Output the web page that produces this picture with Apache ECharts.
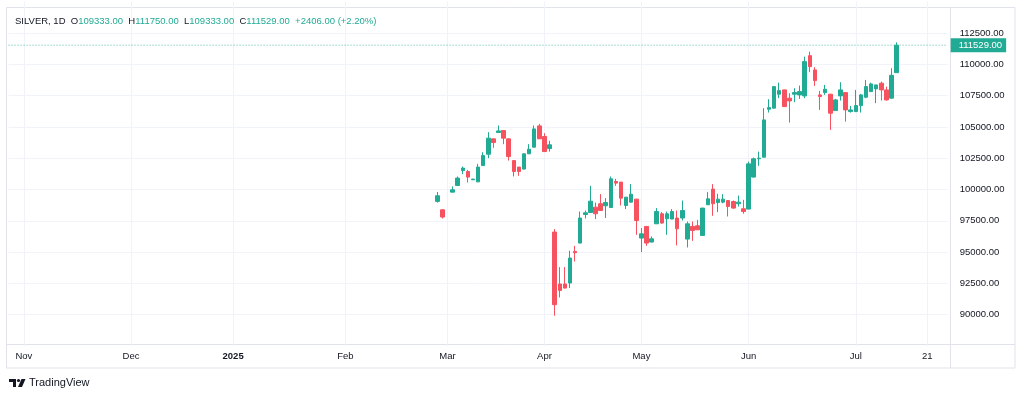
<!DOCTYPE html>
<html>
<head>
<meta charset="utf-8">
<title>SILVER, 1D</title>
<script src="https://cdn.jsdelivr.net/npm/echarts@6.0.0/dist/echarts.min.js"></script>
<style>
  html, body { margin: 0; padding: 0; background: #fff; }
  #chart { width: 1024px; height: 398px; }
</style>
</head>
<body>
<div id="chart"></div>
<script>
// time axis: one slot per trading day, labels sit on these slots
const slotCount = 185
const firstBarSlot = 84
const tickSlots = [3, 24, 44, 66, 86, 105, 124, 145, 166, 180]
const tickLabels = ['Nov', 'Dec', '2025', 'Feb', 'Mar', 'Apr', 'May', 'Jun', 'Jul', '21']

// daily candles from the first bar on (null = no bar on that slot)
const opens = [
  99050, 98380, null, 99790, 100320, 101515, 101435, 100780, 100610, 101910,
  102820, 104045, 104550, 104710, 104045, 102310, 101790, 101630, 102850, 103380,
  105080, 104230, 103270, 96600, 92450, 92450, 92530, 95050, 95720, 98000,
  98160, 98590, 98860, 98700, 98560, 100640, 100590, 98720, 98990, 99230,
  96120, 97050, 95800, 97260, 98060, 97660, 97640, 97720, 97720, 96040,
  97050, 97100, 96330, 98780, 100030, 98960, 98990, 99120, 99040, 98860,
  98460, 98435, 100990, 102450, 102580, 106415, 106495, 107612, 107955, 107293,
  107612, 107556, 107476, 110692, 109551, 107556, 107740, 107612, 106303, 107476,
  107740, 106223, 106223, 106702, 107372, 107819, 108035, 108490, 107955, 107293,
  109333
]
const closes = [
  99500, 97800, null, 99975, 100910, 101710, 100990, 100830, 101790, 102710,
  104100, 103750, 104680, 104100, 102630, 101435, 101435, 102850, 103220, 104840,
  104045, 103030, 103570, 90800, 91940, 92130, 94525, 94950, 97720, 98140,
  99070, 98060, 98320, 98960, 100850, 100510, 99310, 99390, 99630, 97525,
  96460, 95720, 96065, 98240, 97320, 98060, 98240, 96860, 98320, 97260,
  96730, 96780, 98515, 99257, 98860, 99230, 99230, 98640, 98515, 98990,
  98243, 102050, 102450, 102505, 105560, 106543, 108218, 107899, 106622, 107077,
  107740, 107819, 110213, 109814, 108697, 107420, 108011, 106096, 107157, 107955,
  106359, 106359, 106702, 107556, 108218, 108434, 108354, 107955, 107157, 109123,
  111529
]
const lows = [
  98950, 97680, null, 99780, 100300, 101230, 100560, 100760, 100600, 101900,
  102500, 103330, 104540, 103620, 102310, 101040, 101090, 101600, 102840, 103370,
  104030, 103020, 103030, 89920, 91380, 92100, 92130, 94250, 95700, 97690,
  98150, 97640, 98300, 97720, 98550, 100290, 98720, 98435, 98980, 96380,
  95000, 95500, 95790, 97250, 97260, 96380, 97630, 95530, 97525, 95370,
  95900, 96770, 96300, 98760, 97900, 98195, 98900, 97845, 98460, 98640,
  98060, 98420, 100970, 101890, 102570, 106144, 106480, 107293, 106600, 105346,
  106973, 107237, 107293, 109367, 108274, 106359, 107556, 104763, 106290, 107101,
  105425, 106144, 106200, 106144, 107293, 107800, 106894, 107101, 107101, 107280,
  109333
]
const highs = [
  99800, 98400, null, 100240, 101040, 101835, 101570, 100850, 102050, 102980,
  104580, 104060, 105110, 104750, 104060, 102330, 101800, 102860, 103620, 105110,
  105240, 104500, 103890, 96840, 93800, 93800, 95110, 95500, 98240, 98320,
  100290, 98960, 99630, 99310, 101040, 100850, 100600, 99400, 100430, 99250,
  96920, 97060, 96250, 98515, 98195, 98240, 98435, 98320, 99120, 97445,
  97445, 97580, 98530, 99790, 100430, 99656, 99630, 99130, 99120, 99520,
  99177, 102230, 102550, 103030, 106495, 107213, 108240, 108538, 107970, 107692,
  108091, 108298, 110612, 111011, 109766, 107875, 108354, 107630, 107237, 108569,
  107760, 106678, 107955, 107636, 108753, 108538, 108370, 108617, 108218, 109687,
  111750
]

const upColor = '#22ab94'
const downColor = '#f7525f'
const textColor = '#131722'
const lineColor = '#e0e3eb'
const gridColor = '#f0f3fa'
const font = '"Liberation Sans", Arial, sans-serif'

const slots = Array.from({ length: slotCount }, (_, i) => String(i))
const candles = slots.map((s, i) => {
  const k = i - firstBarSlot
  if (k < 0 || k >= opens.length || opens[k] === null) return ['-', '-', '-', '-']
  return [opens[k], closes[k], lows[k], highs[k]]
})
const showTick = idx => tickSlots.indexOf(idx) >= 0

const last = opens.length - 1
const change = closes[last] - closes[last - 1]
const pct = change / closes[last - 1] * 100
// last price line runs across the whole pane
const lastPrice = slots.map(() => closes[last])

const chart = echarts.init(document.getElementById('chart'))
chart.setOption({
  animation: false,
  backgroundColor: '#fff',
  grid: { left: 8.55, right: 76.35, top: 1.7, bottom: 52 },
  title: {
    left: 15,
    top: 16,
    padding: 0,
    text: '{d|SILVER, 1D}  {d|O}{v|' + opens[last].toFixed(2) + '}  {d|H}{v|' + highs[last].toFixed(2) +
      '}  {d|L}{v|' + lows[last].toFixed(2) + '}  {d|C}{v|' + closes[last].toFixed(2) +
      '}  {v|+' + change.toFixed(2) + ' (+' + pct.toFixed(2) + '%)}',
    textStyle: {
      fontFamily: font,
      fontSize: 9.5,
      fontWeight: 'normal',
      rich: {
        d: { color: textColor, fontSize: 9.5, fontFamily: font, fontWeight: 'normal' },
        v: { color: upColor, fontSize: 9.5, fontFamily: font, fontWeight: 'normal' }
      }
    }
  },
  xAxis: {
    type: 'category',
    data: slots,
    boundaryGap: false,
    axisLine: { show: false },
    axisTick: { show: false },
    axisLabel: {
      interval: (idx) => showTick(idx),
      formatter: (val, idx) => {
        const t = tickLabels[tickSlots.indexOf(Number(val))]
        return t === '2025' ? '{b|2025}' : t
      },
      color: textColor,
      fontSize: 9.5,
      fontFamily: font,
      margin: 5,
      rich: { b: { fontWeight: 'bold', fontSize: 9.5, fontFamily: font, color: textColor } }
    },
    splitLine: {
      show: true,
      interval: (idx) => showTick(idx),
      lineStyle: { color: gridColor, width: 1 }
    }
  },
  yAxis: {
    type: 'value',
    position: 'right',
    min: 87500,
    max: 115000,
    interval: 2500,
    axisLine: { show: false },
    axisTick: { show: false },
    axisLabel: {
      showMinLabel: false,
      showMaxLabel: false,
      formatter: v => v.toFixed(2),
      color: textColor,
      fontSize: 9.5,
      fontFamily: font,
      margin: 12
    },
    splitLine: {
      show: true,
      showMinLine: false,
      showMaxLine: false,
      lineStyle: { color: gridColor, width: 1 }
    }
  },
  series: [
    {
      type: 'line',
      data: lastPrice,
      symbol: 'none',
      silent: true,
      z: 1,
      lineStyle: { type: [1, 2], color: upColor, width: 1, opacity: 0.8 },
      endLabel: {
        show: true,
        distance: 3,
        formatter: closes[last].toFixed(2),
        color: '#fff',
        backgroundColor: upColor,
        padding: [2, 4, 2, 8],
        fontSize: 9.5,
        fontFamily: font
      }
    },
    {
      type: 'candlestick',
      data: candles,
      barWidth: 4,
      z: 2,
      itemStyle: {
        color: upColor,
        color0: downColor,
        borderColor: upColor,
        borderColor0: downColor,
        borderWidth: 1
      }
    }
  ],
  graphic: [
    { type: 'rect', shape: { x: 6.5, y: 7.5, width: 1008.5, height: 360.5 }, style: { fill: null, stroke: lineColor, lineWidth: 1 }, silent: true },
    { type: 'line', shape: { x1: 950.5, y1: 7.5, x2: 950.5, y2: 368 }, style: { stroke: lineColor, lineWidth: 1 }, silent: true },
    { type: 'line', shape: { x1: 6.5, y1: 344.5, x2: 1015, y2: 344.5 }, style: { stroke: lineColor, lineWidth: 1 }, silent: true },
    { type: 'rect', shape: { x: 9, y: 379, width: 7, height: 3 }, style: { fill: textColor }, silent: true },
    { type: 'rect', shape: { x: 13, y: 379, width: 3, height: 8 }, style: { fill: textColor }, silent: true },
    { type: 'circle', shape: { cx: 18.5, cy: 380.5, r: 1.6 }, style: { fill: textColor }, silent: true },
    { type: 'polygon', shape: { points: [[21.5, 379], [25.5, 379], [22, 387], [18, 387]] }, style: { fill: textColor }, silent: true },
    { type: 'text', x: 29, y: 383, style: { text: 'TradingView', fill: textColor, fontSize: 11, fontFamily: font, verticalAlign: 'middle' }, silent: true }
  ]
})
</script>
</body>
</html>
